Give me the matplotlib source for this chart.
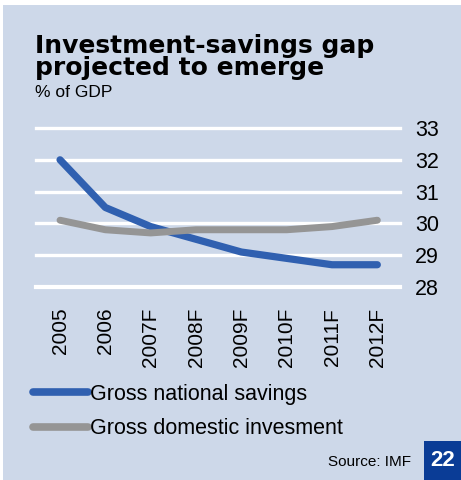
import matplotlib.pyplot as plt
from matplotlib.patches import Rectangle

years = ['2005', '2006', '2007F', '2008F', '2009F', '2010F', '2011F', '2012F']
savings = [32.0, 30.5, 29.9, 29.5, 29.1, 28.9, 28.7, 28.7]
investment = [30.1, 29.8, 29.7, 29.8, 29.8, 29.8, 29.9, 30.1]
yticks = [28, 29, 30, 31, 32, 33]

bg = '#cdd8e9'
blue = '#3060b0'
grey = '#959595'

plt.rcParams['font.family'] = ['Liberation Sans', 'DejaVu Sans']

W, H = 461, 480
fig = plt.figure(figsize=(W / 100, H / 100), dpi=100)
fig.patch.set_facecolor('white')

# light blue panel behind everything
fig.patches.append(Rectangle((3 / W, 0), 1, (H - 5) / H, transform=fig.transFigure,
                             facecolor=bg, edgecolor='none', zorder=-5))

ax = fig.add_axes([36 / W, 1 - 287 / H, (400 - 36) / W, (287 - 128) / H])
ax.set_facecolor('none')
x = list(range(len(years)))
ax.set_xlim(-0.53, 7.5)
ax.set_ylim(28, 33)

for t in yticks:
    ax.axhline(t, color='white', lw=2.4 if t != 28 else 3.0, zorder=1, clip_on=False)

ax.plot(x, savings, color=blue, lw=5.2, solid_capstyle='round', solid_joinstyle='round',
        zorder=3, clip_on=False, label='Gross national savings')
ax.plot(x, investment, color=grey, lw=5.0, solid_capstyle='round', solid_joinstyle='round',
        zorder=4, clip_on=False, label='Gross domestic invesment')

for s in ax.spines.values():
    s.set_visible(False)
ax.yaxis.tick_right()
ax.set_yticks(yticks)
ax.set_yticklabels([str(t) for t in yticks], fontsize=15.5)
ax.tick_params(axis='y', length=0, pad=11)
ax.set_xticks(x)
ax.set_xticklabels(years, rotation=90, fontsize=15)
ax.tick_params(axis='x', length=0, pad=15)

leg = ax.legend(loc='upper left', bbox_to_anchor=(33 / W, 1 - 384 / H),
                bbox_transform=fig.transFigure, frameon=False, fontsize=15.5,
                handlelength=2.55, handletextpad=0.1, labelspacing=0.62,
                borderaxespad=0, borderpad=0)
for ln in leg.get_lines():
    ln.set_linewidth(5.5)
    ln.set_solid_capstyle('round')

fig.text(35 / W, 1 - 75 / H, 'Investment-savings gap\nprojected to emerge',
         fontsize=18, fontweight='bold', family='DejaVu Sans', va='baseline',
         linespacing=0.92)
fig.text(35 / W, 1 - 97 / H, '% of GDP', fontsize=12.5, va='baseline')

fig.text(411 / W, 1 - 466 / H, 'Source: IMF', fontsize=11, ha='right', va='baseline')
fig.patches.append(Rectangle((424 / W, 0), (W - 424) / W, 39 / H, transform=fig.transFigure,
                             facecolor='#0a3c96', edgecolor='none', zorder=1))
fig.text(443 / W, 19 / H, '22', fontsize=16, fontweight='bold', color='white',
         ha='center', va='center')

fig.savefig('out.png', dpi=100, facecolor=fig.get_facecolor())
